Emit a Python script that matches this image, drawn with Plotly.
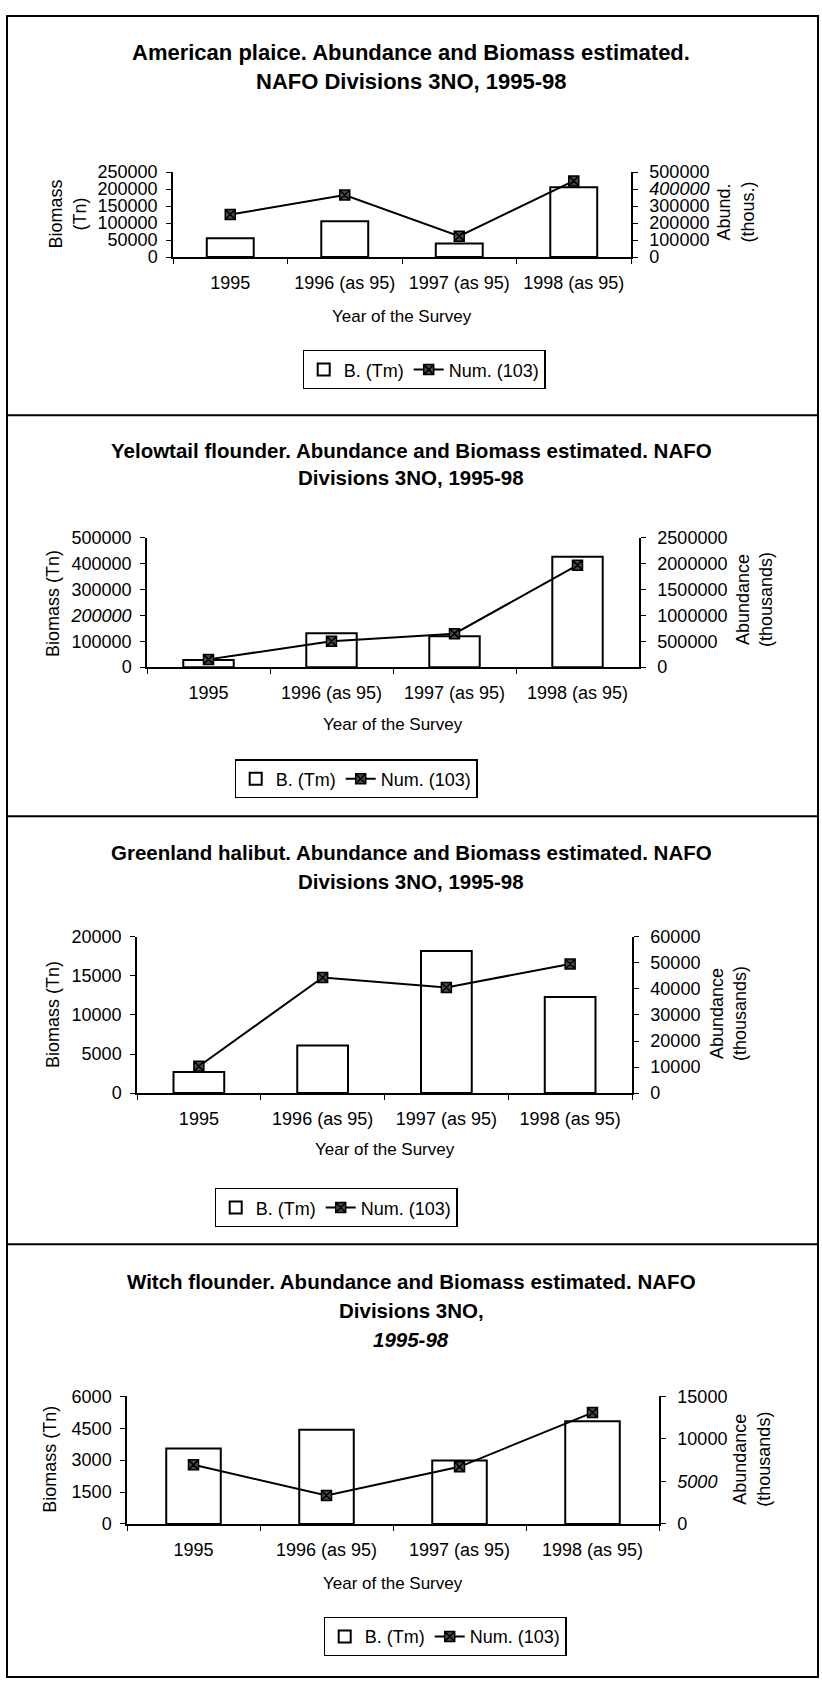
import plotly.graph_objects as go

W, H = 822, 1694

# ---------------- data ----------------
categories = ["1995", "1996 (as 95)", "1997 (as 95)", "1998 (as 95)"]

plaice_biomass = [55000, 105000, 40000, 205000]
plaice_abund = [250000, 365000, 123000, 448000]

yellowtail_biomass = [28000, 131000, 119000, 426000]
yellowtail_abund = [150000, 500000, 647000, 1970000]

halibut_biomass = [2700, 6100, 18200, 12300]
halibut_abund = [10300, 44400, 40600, 49600]

witch_biomass = [3550, 4430, 2990, 4830]
witch_abund = [6950, 3340, 6720, 13100]

plaice_left_ticks = [0, 50000, 100000, 150000, 200000, 250000]
plaice_right_ticks = [0, 100000, 200000, 300000, 400000, 500000]
yellowtail_left_ticks = [0, 100000, 200000, 300000, 400000, 500000]
yellowtail_right_ticks = [0, 500000, 1000000, 1500000, 2000000, 2500000]
halibut_left_ticks = [0, 5000, 10000, 15000, 20000]
halibut_right_ticks = [0, 10000, 20000, 30000, 40000, 50000, 60000]
witch_left_ticks = [0, 1500, 3000, 4500, 6000]
witch_right_ticks = [0, 5000, 10000, 15000]

# tick labels that are printed in italics in the source
plaice_right_italic = [400000]
yellowtail_left_italic = [200000]
witch_right_italic = [5000]

bar_name = "B. (Tm)"
line_name = "Num. (103)"
x_title = "Year of the Survey"

# ---------------- layout geometry (pixels) ----------------
panels = [
    dict(
        biomass=plaice_biomass, abund=plaice_abund,
        lticks=plaice_left_ticks, rticks=plaice_right_ticks,
        litalic=[], ritalic=plaice_right_italic,
        title=[("American plaice. Abundance and Biomass estimated.", 43, False),
               ("NAFO Divisions 3NO, 1995-98", 72, False)],
        tsize=22,
        plot=(173, 631, 164, 250),
        ltitle=("Biomass<br>(Tn)", 68, 207), rtitle=("Abund.<br>(thous.)", 736, 205),
        xt_y=310, legend=(424, 364),
    ),
    dict(
        biomass=yellowtail_biomass, abund=yellowtail_abund,
        lticks=yellowtail_left_ticks, rticks=yellowtail_right_ticks,
        litalic=yellowtail_left_italic, ritalic=[],
        title=[("Yelowtail flounder. Abundance and Biomass estimated. NAFO", 446, False),
               ("Divisions 3NO, 1995-98", 473, False)],
        tsize=20.5,
        plot=(147, 639, 534, 665),
        ltitle=("Biomass (Tn)", 53, 601), rtitle=("Abundance<br>(thousands)", 755, 597),
        xt_y=723, legend=(356, 778),
    ),
    dict(
        biomass=halibut_biomass, abund=halibut_abund,
        lticks=halibut_left_ticks, rticks=halibut_right_ticks,
        litalic=[], ritalic=[],
        title=[("Greenland halibut. Abundance and Biomass estimated. NAFO", 853, False),
               ("Divisions 3NO, 1995-98", 882, False)],
        tsize=20.5,
        plot=(137, 632, 938, 1096),
        ltitle=("Biomass (Tn)", 53, 1017), rtitle=("Abundance<br>(thousands)", 728, 1016),
        xt_y=1153, legend=(336, 1212),
    ),
    dict(
        biomass=witch_biomass, abund=witch_abund,
        lticks=witch_left_ticks, rticks=witch_right_ticks,
        litalic=[], ritalic=witch_right_italic,
        title=[("Witch flounder. Abundance and Biomass estimated. NAFO", 1287, False),
               ("Divisions 3NO,", 1316, False),
               ("1995-98", 1345, True)],
        tsize=20.5,
        plot=(127, 659, 1403, 1532),
        ltitle=("Biomass (Tn)", 50, 1467), rtitle=("Abundance<br>(thousands)", 752, 1467),
        xt_y=1592, legend=(445, 1646),
    ),
]

FONT = "Liberation Sans, Arial, sans-serif"
TICKFONT = dict(family=FONT, size=18, color="black")


def fx(x):
    return x / W


def fy(y):
    return 1 - y / H


def tick_text(vals, italic):
    return [f"<i>{v}</i>" if v in italic else str(v) for v in vals]


fig = go.Figure()
layout = {}
annotations = []

for i, p in enumerate(panels):
    n = i + 1
    xref = "x" if n == 1 else f"x{n}"
    xkey = "xaxis" if n == 1 else f"xaxis{n}"
    yl, yr = 2 * i + 1, 2 * i + 2
    ylref = "y" if yl == 1 else f"y{yl}"
    ylkey = "yaxis" if yl == 1 else f"yaxis{yl}"
    yrref, yrkey = f"y{yr}", f"yaxis{yr}"
    leg = "legend" if n == 1 else f"legend{n}"

    fig.add_trace(go.Bar(
        x=categories, y=p["biomass"], name=bar_name, xaxis=xref, yaxis=ylref,
        marker=dict(color="white", line=dict(color="black", width=2)),
        width=0.41, legend=leg,
    ))
    fig.add_trace(go.Scatter(
        x=categories, y=p["abund"], name=line_name, xaxis=xref, yaxis=yrref,
        mode="lines+markers", line=dict(color="black", width=2),
        marker=dict(symbol="square-x", size=10, color="#4a4a4a",
                    line=dict(color="black", width=1.5)),
        legend=leg,
    ))

    x0, x1, y0, y1 = p["plot"]
    layout[xkey] = dict(
        domain=[fx(x0), fx(x1)], anchor=ylref, type="category",
        showline=True, linecolor="black", linewidth=1.5,
        ticks="outside", tickson="boundaries", ticklen=5, tickcolor="black",
        tickwidth=1, showgrid=False, zeroline=False, tickfont=TICKFONT,
        ticklabelstandoff=9, range=[-0.5, 3.5], fixedrange=True,
    )
    layout[ylkey] = dict(
        domain=[fy(y1), fy(y0)], anchor=xref, side="left",
        range=[0, p["lticks"][-1]], tickvals=p["lticks"],
        ticktext=tick_text(p["lticks"], p["litalic"]),
        showline=True, linecolor="black", linewidth=1.5,
        ticks="outside", ticklen=5, tickcolor="black", tickwidth=1,
        showgrid=False, zeroline=False, tickfont=TICKFONT,
        ticklabelstandoff=5,
    )
    layout[yrkey] = dict(
        overlaying=ylref, anchor=xref, side="right",
        range=[0, p["rticks"][-1]], tickvals=p["rticks"],
        ticktext=tick_text(p["rticks"], p["ritalic"]),
        showline=True, linecolor="black", linewidth=1.5,
        ticks="outside", ticklen=5, tickcolor="black", tickwidth=1,
        showgrid=False, zeroline=False, tickfont=TICKFONT,
        ticklabelstandoff=8,
    )

    lx, ly = p["legend"]
    layout[leg] = dict(
        orientation="h", x=fx(lx), y=fy(ly), xanchor="center", yanchor="middle",
        bgcolor="white", bordercolor="black", borderwidth=1.2,
        font=dict(family=FONT, size=18, color="black"),
        itemwidth=30, tracegroupgap=0,
    )

    for text, ty, ital in p["title"]:
        t = f"<b><i>{text}</i></b>" if ital else f"<b>{text}</b>"
        annotations.append(dict(
            text=t, x=fx(411), y=fy(ty), xref="paper", yref="paper",
            xanchor="center", yanchor="middle", showarrow=False,
            font=dict(family=FONT, size=p["tsize"], color="black"),
        ))
    lt, ltx, lty = p["ltitle"]
    annotations.append(dict(
        text=lt, x=fx(ltx), y=fy(lty), xref="paper", yref="paper",
        xanchor="center", yanchor="middle", showarrow=False, textangle=-90,
        font=dict(family=FONT, size=18, color="black"),
    ))
    rt, rtx, rty = p["rtitle"]
    annotations.append(dict(
        text=rt, x=fx(rtx), y=fy(rty), xref="paper", yref="paper",
        xanchor="center", yanchor="middle", showarrow=False, textangle=-90,
        font=dict(family=FONT, size=18, color="black"),
    ))
    annotations.append(dict(
        text=x_title, x=fx((x0 + x1) / 2), y=fy(p["xt_y"]), xref="paper", yref="paper",
        xanchor="center", yanchor="middle", showarrow=False,
        font=dict(family=FONT, size=17, color="black"),
    ))

# panel frames
shapes = [dict(type="rect", xref="paper", yref="paper",
               x0=fx(7), x1=fx(818), y0=fy(1687), y1=fy(6),
               line=dict(color="black", width=2))]
for sy in [410, 816, 1249]:
    shapes.append(dict(type="line", xref="paper", yref="paper",
                       x0=fx(7), x1=fx(818), y0=fy(sy), y1=fy(sy),
                       line=dict(color="black", width=2)))

fig.update_layout(
    width=W, height=H, margin=dict(l=0, r=0, t=0, b=0),
    paper_bgcolor="white", plot_bgcolor="white",
    font=dict(family=FONT, color="black"),
    annotations=annotations, shapes=shapes,
    bargap=0.59, **layout,
)

fig.write_html("out.html", config={"displayModeBar": False},
               post_script="document.body.style.margin='0';")
